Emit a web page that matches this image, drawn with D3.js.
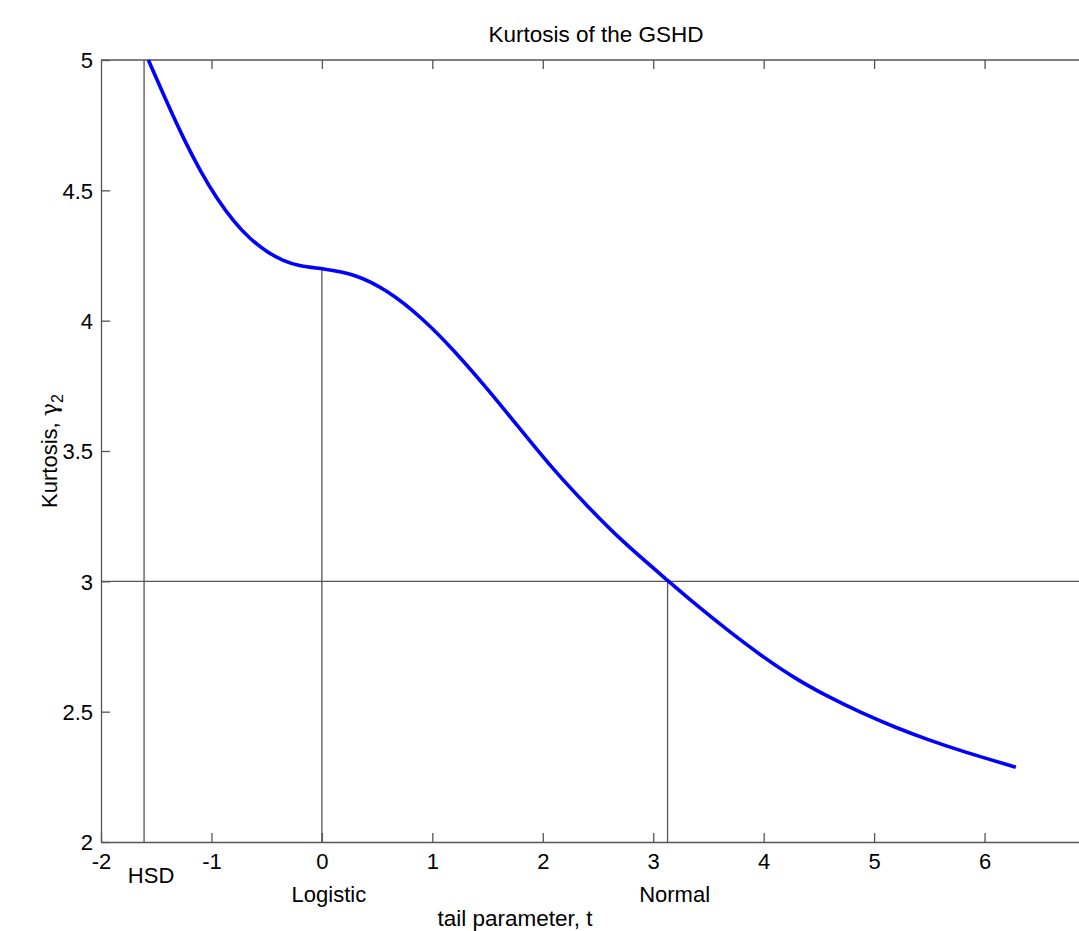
<!DOCTYPE html>
<html>
<head>
<meta charset="utf-8">
<script src="https://cdn.jsdelivr.net/npm/d3@7"></script>
<style>
  body { margin: 0; background: #fff; }
  text { font-family: "Liberation Sans", Arial, sans-serif; fill: #000; }
</style>
</head>
<body>
<svg id="chart"></svg>
<script>
// curve: tail parameter t -> kurtosis
const tValues = [-1.571, -1.4, -1.25, -1.1, -0.95, -0.8, -0.65, -0.5, -0.35, -0.2, 0,
                 0.3, 0.6, 0.9, 1.2, 1.5, 1.8, 2.1, 2.4, 2.7, 3.14,
                 3.37, 3.68, 3.98, 4.28, 4.58, 4.88, 5.19, 5.49, 5.79, 6.283];
const kurtosis = [5.0, 4.834, 4.696, 4.573, 4.468, 4.381, 4.313, 4.264, 4.229, 4.209, 4.2,
                  4.18, 4.115, 4.014, 3.885, 3.738, 3.582, 3.426, 3.29, 3.16, 3.0,
                  2.916, 2.81, 2.714, 2.628, 2.558, 2.496, 2.44, 2.392, 2.349, 2.287];

// reference distributions
const markerNames = ["HSD", "Logistic", "Normal"];
const markerT = [-1.61, 0, 3.13];
const markerK = [5, 4.2, 3];
const normalKurtosis = 3;

const xTicks = [-2, -1, 0, 1, 2, 3, 4, 5, 6];
const yTicks = [2, 2.5, 3, 3.5, 4, 4.5, 5];

const width = 1079, height = 931;
const svg = d3.select("#chart").attr("width", width).attr("height", height);

const x = d3.scaleLinear().domain([-2, 7]).range([101, 1095]);
const y = d3.scaleLinear().domain([2, 5]).range([842, 60]);

const axisColor = "#555";

// frame top line
svg.append("line")
    .attr("x1", x(-2)).attr("x2", x(7))
    .attr("y1", y(5)).attr("y2", y(5))
    .attr("stroke", axisColor).attr("stroke-width", 1.3);

// bottom axis (ticks pointing in)
const gx = svg.append("g")
    .attr("transform", "translate(0," + y(2) + ")")
    .call(d3.axisBottom(x).tickValues(xTicks).tickSize(-9).tickSizeOuter(0)
        .tickPadding(11).tickFormat(d => String(d)));

// top ticks
svg.append("g")
    .attr("transform", "translate(0," + y(5) + ")")
    .call(d3.axisTop(x).tickValues(xTicks.slice(1)).tickSize(-9).tickSizeOuter(0)
        .tickFormat(""))
    .select(".domain").remove();

const gy = svg.append("g")
    .attr("transform", "translate(" + x(-2) + ",0)")
    .call(d3.axisLeft(y).tickValues(yTicks).tickSize(-9).tickSizeOuter(0)
        .tickPadding(8).tickFormat(d => String(d)));

svg.selectAll(".domain, .tick line")
    .attr("stroke", axisColor).attr("stroke-width", 1.3);
svg.selectAll(".tick text")
    .attr("fill", "#000")
    .style("font-size", "22px")
    .style("font-family", "'Liberation Sans', Arial, sans-serif");
gy.selectAll(".tick text").attr("dy", "0.36em");

// reference lines
svg.append("line")
    .attr("x1", x(-2)).attr("x2", x(7))
    .attr("y1", y(normalKurtosis)).attr("y2", y(normalKurtosis))
    .attr("stroke", axisColor).attr("stroke-width", 1.3);

svg.selectAll(".marker")
    .data(markerT)
    .enter()
    .append("line")
    .attr("class", "marker")
    .attr("x1", d => x(d)).attr("x2", d => x(d))
    .attr("y1", y(2))
    .attr("y2", (d, i) => y(markerK[i]))
    .attr("stroke", axisColor).attr("stroke-width", 1.3);

// curve
const line = d3.line()
    .x((d, i) => x(tValues[i]))
    .y(d => y(d))
    .curve(d3.curveBasis);

svg.append("path")
    .datum(kurtosis)
    .attr("d", line)
    .attr("fill", "none")
    .attr("stroke", "#0000ff")
    .attr("stroke-width", 3.6)
    .attr("stroke-linejoin", "round");

// marker labels under the axis
svg.selectAll(".mlabel")
    .data(markerNames)
    .enter()
    .append("text")
    .attr("class", "mlabel")
    .attr("text-anchor", "middle")
    .attr("x", (d, i) => x(markerT[i]) + 7)
    .attr("y", (d, i) => i == 0 ? 883 : 902)
    .style("font-size", "22px")
    .text(d => d);

// titles
svg.append("text")
    .attr("x", 596).attr("y", 42)
    .attr("text-anchor", "middle")
    .style("font-size", "22.5px")
    .text("Kurtosis of the GSHD");

svg.append("text")
    .attr("x", 515).attr("y", 926)
    .attr("text-anchor", "middle")
    .style("font-size", "22.5px")
    .text("tail parameter, t");

const ylab = svg.append("text")
    .attr("transform", "translate(57," + 451 + ") rotate(-90)")
    .attr("text-anchor", "middle")
    .style("font-size", "22px");
ylab.append("tspan").text("Kurtosis, ");
ylab.append("tspan").style("font-family", "'DejaVu Serif', serif").text("γ");
ylab.append("tspan").attr("dy", 6).style("font-size", "16px").text("2");
</script>
</body>
</html>
